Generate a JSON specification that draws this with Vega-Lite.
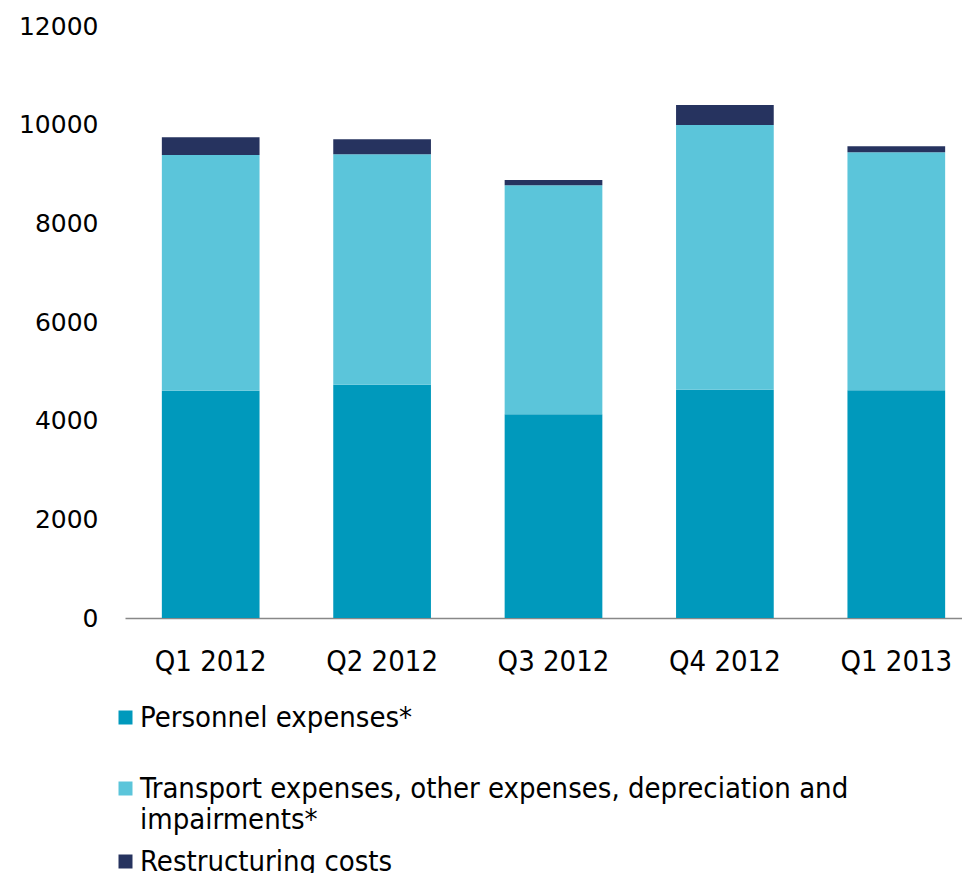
{
  "$schema": "https://vega.github.io/schema/vega-lite/v6.json",
  "width": 857,
  "height": 592,
  "autosize": {"type": "none"},
  "padding": {"left": 125, "top": 26, "right": 0, "bottom": 255},
  "background": "white",
  "config": {"view": {"stroke": null}, "font": "DejaVu Sans"},
  "data": {
    "values": [
      {"quarter": "Q1 2012", "category": "Personnel expenses*", "k": 1, "value": 4608},
      {"quarter": "Q1 2012", "category": "Transport expenses, other expenses, depreciation and impairments*", "k": 2, "value": 4778},
      {"quarter": "Q1 2012", "category": "Restructuring costs", "k": 3, "value": 359},
      {"quarter": "Q2 2012", "category": "Personnel expenses*", "k": 1, "value": 4729},
      {"quarter": "Q2 2012", "category": "Transport expenses, other expenses, depreciation and impairments*", "k": 2, "value": 4671},
      {"quarter": "Q2 2012", "category": "Restructuring costs", "k": 3, "value": 304},
      {"quarter": "Q3 2012", "category": "Personnel expenses*", "k": 1, "value": 4129},
      {"quarter": "Q3 2012", "category": "Transport expenses, other expenses, depreciation and impairments*", "k": 2, "value": 4642},
      {"quarter": "Q3 2012", "category": "Restructuring costs", "k": 3, "value": 108},
      {"quarter": "Q4 2012", "category": "Personnel expenses*", "k": 1, "value": 4628},
      {"quarter": "Q4 2012", "category": "Transport expenses, other expenses, depreciation and impairments*", "k": 2, "value": 5366},
      {"quarter": "Q4 2012", "category": "Restructuring costs", "k": 3, "value": 405},
      {"quarter": "Q1 2013", "category": "Personnel expenses*", "k": 1, "value": 4616},
      {"quarter": "Q1 2013", "category": "Transport expenses, other expenses, depreciation and impairments*", "k": 2, "value": 4825},
      {"quarter": "Q1 2013", "category": "Restructuring costs", "k": 3, "value": 121}
    ]
  },
  "encoding": {
    "x": {
      "field": "quarter",
      "type": "nominal",
      "sort": ["Q1 2012", "Q2 2012", "Q3 2012", "Q4 2012", "Q1 2013"],
      "scale": {"paddingInner": 0.43, "paddingOuter": 0.215},
      "axis": {
        "title": null,
        "labelAngle": 0,
        "ticks": false,
        "domainColor": "#888888",
        "domainWidth": 1.5,
        "labelFontSize": 29,
        "labelFont": "DejaVu Sans Condensed",
        "labelColor": "#000000",
        "labelPadding": 29
      }
    }
  },
  "layer": [
    {
      "transform": [{"filter": "datum.k < 3"}],
      "mark": {"type": "bar"},
      "encoding": {
        "y": {
          "field": "value",
          "type": "quantitative",
          "stack": "zero",
          "scale": {"domain": [0, 12000]},
          "axis": {
            "title": null,
            "values": [0, 2000, 4000, 6000, 8000, 10000, 12000],
            "format": "d",
            "grid": false,
            "domain": false,
            "ticks": false,
            "labelFontSize": 25,
            "labelColor": "#000000",
            "labelPadding": 27
          }
        },
        "color": {
          "field": "category",
          "type": "nominal",
          "scale": {
            "domain": ["Personnel expenses*", "Transport expenses, other expenses, depreciation and impairments*"],
            "range": ["#0099bc", "#5bc5da"]
          },
          "legend": {
            "title": null,
            "orient": "none",
            "legendX": -14,
            "legendY": 677,
            "direction": "vertical",
            "padding": 0,
            "symbolType": "square",
            "symbolSize": 196,
            "symbolStrokeWidth": 0,
            "symbolOpacity": 1,
            "labelFontSize": 29,
            "labelFont": "DejaVu Sans Condensed",
            "labelColor": "#000000",
            "labelOffset": 0,
            "labelLimit": 900,
            "rowPadding": 41,
            "labelExpr": "datum.label == 'Transport expenses, other expenses, depreciation and impairments*' ? ['Transport expenses, other expenses, depreciation and', 'impairments*'] : datum.label"
          }
        },
        "order": {"field": "k", "type": "quantitative"}
      }
    },
    {
      "transform": [
        {"stack": "value", "groupby": ["quarter"], "sort": [{"field": "k", "order": "ascending"}], "as": ["v0", "v1"]},
        {"filter": "datum.k == 3"}
      ],
      "mark": {"type": "bar"},
      "encoding": {
        "y": {"field": "v1", "type": "quantitative"},
        "y2": {"field": "v0"},
        "color": {
          "field": "category",
          "type": "nominal",
          "scale": {"domain": ["Restructuring costs"], "range": ["#26335f"]},
          "legend": {
            "title": null,
            "orient": "none",
            "legendX": -14,
            "legendY": 821,
            "direction": "vertical",
            "padding": 0,
            "symbolType": "square",
            "symbolSize": 196,
            "symbolStrokeWidth": 0,
            "symbolOpacity": 1,
            "labelFontSize": 29,
            "labelFont": "DejaVu Sans Condensed",
            "labelColor": "#000000",
            "labelOffset": 0,
            "labelLimit": 900
          }
        }
      }
    }
  ],
  "resolve": {"scale": {"color": "independent"}, "legend": {"color": "independent"}}
}
